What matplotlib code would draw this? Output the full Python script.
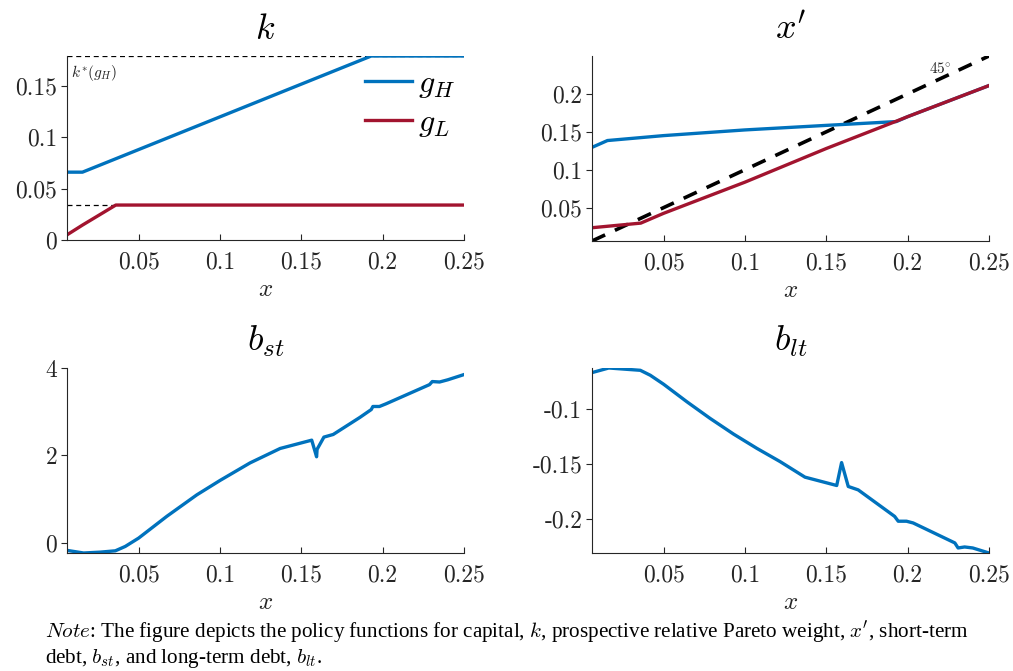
import numpy as np
import matplotlib
matplotlib.use('Agg')
import matplotlib.pyplot as plt
from matplotlib.ticker import FuncFormatter

plt.rcParams['mathtext.fontset'] = 'cm'
plt.rcParams['font.family'] = 'serif'
plt.rcParams['font.serif'] = ['cmr10']
plt.rcParams['axes.unicode_minus'] = False

blue = (0.0, 0.447, 0.741)
red  = (0.635, 0.078, 0.184)
grey = (0.15, 0.15, 0.15)

x_min, x_max = 0.006, 0.25
x_ticks = [0.05, 0.1, 0.15, 0.2, 0.25]

# capital policy k
k_H_x = [0.006, 0.0155, 0.193, 0.25]
k_H_y = [0.066, 0.066, 0.179, 0.179]
k_L_x = [0.006, 0.0155, 0.036, 0.25]
k_L_y = [0.005, 0.0145, 0.034, 0.034]
k_star_H = 0.179
k_star_L = 0.034

# prospective relative Pareto weight x'
xp_H_x = [0.006, 0.0155, 0.05, 0.1, 0.15, 0.193, 0.2, 0.25]
xp_H_y = [0.1295, 0.1385, 0.145, 0.1525, 0.1585, 0.1635, 0.17, 0.211]
xp_L_x = [0.006, 0.036, 0.05, 0.1, 0.15, 0.193, 0.2, 0.25]
xp_L_y = [0.0235, 0.0296, 0.0425, 0.0836, 0.128, 0.164, 0.17, 0.211]

# short-term debt b_st
bst_x = [0.006, 0.0162, 0.0265, 0.0357, 0.0418, 0.05, 0.0674, 0.0858, 0.1001,
         0.1185, 0.137, 0.1564, 0.1594, 0.1597, 0.1639, 0.1696, 0.186, 0.193,
         0.194, 0.198, 0.202, 0.2288, 0.2305, 0.235, 0.24, 0.25]
bst_y = [-0.17, -0.23, -0.21, -0.18, -0.08, 0.11, 0.61, 1.10, 1.43,
         1.83, 2.16, 2.35, 1.97, 2.14, 2.42, 2.48, 2.87, 3.05,
         3.12, 3.12, 3.18, 3.62, 3.69, 3.68, 3.73, 3.85]

# long-term debt b_lt
blt_x = [0.006, 0.0163, 0.0357, 0.0418, 0.05, 0.0644, 0.0786, 0.093, 0.1073,
         0.1216, 0.1369, 0.1564, 0.1594, 0.1615, 0.1635, 0.1696, 0.192, 0.1942,
         0.1993, 0.2034, 0.229, 0.231, 0.235, 0.24, 0.25]
blt_y = [-0.0664, -0.0622, -0.0643, -0.0688, -0.077, -0.0931, -0.1082, -0.1225, -0.1355,
         -0.1476, -0.1618, -0.1694, -0.1485, -0.1597, -0.1703, -0.1734, -0.1976, -0.202,
         -0.202, -0.2036, -0.2218, -0.2264, -0.2255, -0.2264, -0.231]

fig = plt.figure(figsize=(10.13, 6.71), dpi=100)
W, H = 1013, 671

def make_ax(l, r, t, b):
    ax = fig.add_axes([l / W, 1 - b / H, (r - l) / W, (b - t) / H])
    ax.spines['top'].set_visible(False)
    ax.spines['right'].set_visible(False)
    for s in ('left', 'bottom'):
        ax.spines[s].set_color(grey)
        ax.spines[s].set_linewidth(0.8)
    ax.tick_params(axis='x', direction='in', length=4, colors=grey, labelsize=17, pad=8)
    ax.tick_params(axis='y', direction='out', length=4, colors=grey, labelsize=17, pad=3)
    ax.xaxis.set_major_formatter(FuncFormatter(lambda v, p: '%g' % v))
    ax.yaxis.set_major_formatter(FuncFormatter(lambda v, p: '%g' % round(v, 4)))
    ax.set_xlim(x_min, x_max)
    ax.set_xticks(x_ticks)
    ax.set_xlabel('$x$', fontsize=18, color=grey, labelpad=4)
    return ax

lw = 2.4

# k
ax1 = make_ax(67, 464, 56, 240)
ax1.plot([x_min, x_max], [k_star_H, k_star_H], '--', color='k', lw=0.9, dashes=(4, 3))
ax1.plot([x_min, k_L_x[2]], [k_star_L, k_star_L], '--', color='k', lw=0.9, dashes=(4, 3))
ax1.plot(k_H_x, k_H_y, color=blue, lw=lw, label='$g_H$')
ax1.plot(k_L_x, k_L_y, color=red, lw=lw, label='$g_L$')
ax1.set_ylim(0, 0.179)
ax1.set_yticks([0, 0.05, 0.1, 0.15])
ax1.text(0.0085, 0.172, '$k^{*}(g_H)$', fontsize=11, va='top', color=grey)
ax1.set_title('$k$', fontsize=26, pad=12)
ax1.legend(loc='upper right', bbox_to_anchor=(1.05, 1.08), frameon=False, fontsize=23,
           handlelength=1.45, handletextpad=0.2, labelspacing=0.25)

# x'
ax2 = make_ax(592, 989, 56, 241)
ax2.plot([x_min, x_max], [x_min, x_max], '--', color='k', lw=2.6, dashes=(4, 3))
ax2.plot(xp_H_x, xp_H_y, color=blue, lw=lw)
ax2.plot(xp_L_x, xp_L_y, color=red, lw=lw)
ax2.set_ylim(0.006, 0.25)
ax2.set_yticks([0.05, 0.1, 0.15, 0.2])
ax2.text(0.213, 0.234, r'$45^{\circ}$', fontsize=11, color=grey, va='center')
ax2.set_title("$x'$", fontsize=26, pad=12)

# b_st
ax3 = make_ax(67, 464, 368, 553)
ax3.plot(bst_x, bst_y, color=blue, lw=lw)
ax3.set_ylim(-0.23, 4)
ax3.set_yticks([0, 2, 4])
ax3.set_title('$b_{st}$', fontsize=26, pad=12)

# b_lt
ax4 = make_ax(592, 989, 368, 553)
ax4.plot(blt_x, blt_y, color=blue, lw=lw)
ax4.set_ylim(-0.231, -0.0622)
ax4.set_yticks([-0.2, -0.15, -0.1])
ax4.set_title('$b_{lt}$', fontsize=26, pad=12)

note1 = (r"$\it{Note}$: The figure depicts the policy functions for capital, $k$, "
         r"prospective relative Pareto weight, $x'$, short-term")
note2 = r"debt, $b_{st}$, and long-term debt, $b_{lt}$."
fig.text(45 / W, 1 - 632 / H, note1, fontsize=15.2, family='Liberation Serif', va='center')
fig.text(45 / W, 1 - 658 / H, note2, fontsize=15.2, family='Liberation Serif', va='center')

fig.savefig('out.png', dpi=100)
